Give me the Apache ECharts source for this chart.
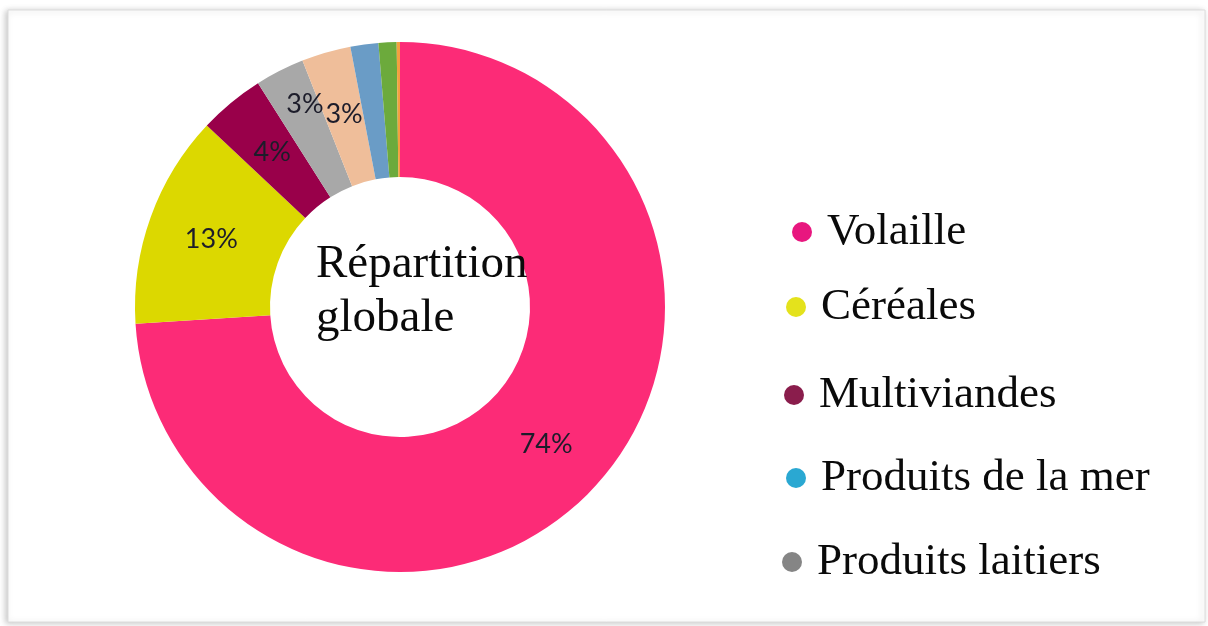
<!DOCTYPE html>
<html>
<head>
<meta charset="utf-8">
<script src="https://cdn.jsdelivr.net/npm/echarts@6/dist/echarts.min.js"></script>
<style>
  html, body { margin: 0; padding: 0; background: #fff; }
  #chart { width: 1208px; height: 626px; }
</style>
</head>
<body>
<div id="chart"></div>
<script>
// slices, clockwise from 12 o'clock
const categories = ['Volaille', 'Céréales', 'Multiviandes', 'Produits laitiers', 'Œufs', 'Produits de la mer', 'Légumes', 'Autres'];
const values = [74, 13, 4, 3, 3, 1.7, 1.1, 0.2];
const sliceColors = ['#fc2b77', '#dcd800', '#99004a', '#a8a8a8', '#efbe9a', '#6a9cc6', '#6caa3c', '#f4a040'];

// legend entries as drawn beside the ring
const legendNames = ['Volaille', 'Céréales', 'Multiviandes', 'Produits de la mer', 'Produits laitiers'];
const legendColors = ['#e8177f', '#e4e21c', '#8a1d4c', '#2aa8d2', '#858585'];

const centerText = 'Répartition\nglobale';

// legend rows are not evenly spaced in the original
const legendLayout = [[787, 202], [781, 277], [779, 365], [781, 448], [777, 532]];

let dom_chart = document.getElementById('chart');
let chart = echarts.init(dom_chart, null, { renderer: 'canvas' });

let pieData = [];
for (let i in categories) {
    pieData.push({
        name: categories[i],
        value: values[i],
        itemStyle: { color: sliceColors[i] },
        label: { show: values[i] >= 3 }
    });
}
// gray label sits a bit further out in the original
pieData[3].label.offset = [-4, -24];

let legends = [];
for (let i in legendNames) {
    legends.push({
        orient: 'vertical',
        left: legendLayout[i][0],
        top: legendLayout[i][1],
        itemWidth: 20,
        itemHeight: 20,
        selectedMode: false,
        data: [{ name: legendNames[i], icon: 'circle', itemStyle: { color: legendColors[i] } }],
        textStyle: {
            fontFamily: 'Liberation Serif',
            fontSize: 45,
            lineHeight: 50,
            color: '#0a0a0a',
            padding: [0, 0, 0, 10]
        }
    });
}

let options = {
    animation: false,
    backgroundColor: '#fff',
    legend: legends,
    graphic: [
        {
            type: 'rect',
            z: -1,
            shape: { x: 8, y: 10, width: 1197, height: 612 },
            style: {
                fill: '#fff',
                stroke: '#dcdcdc',
                lineWidth: 1,
                shadowBlur: 6,
                shadowOffsetX: -2,
                shadowOffsetY: 1,
                shadowColor: 'rgba(0,0,0,0.22)'
            }
        },
        {
            type: 'text',
            z: 100,
            style: {
                text: centerText,
                x: 316,
                y: 238,
                font: '47px "Liberation Serif"',
                lineHeight: 54,
                fill: '#0a0a0a',
                align: 'left',
                verticalAlign: 'top'
            }
        }
    ],
    series: [{
        type: 'pie',
        center: [400, 307],
        radius: [130, 265],
        startAngle: 90,
        clockwise: true,
        avoidLabelOverlap: false,
        label: {
            position: 'inside',
            formatter: function (p) { return Math.round(p.value) + '%'; },
            fontFamily: 'Lato',
            fontSize: 27,
            color: '#1c1c2a'
        },
        labelLine: { show: false },
        emphasis: { disabled: true },
        itemStyle: { borderWidth: 0 },
        data: pieData
    }]
};

chart.setOption(options);
window.addEventListener('resize', chart.resize);
</script>
</body>
</html>
